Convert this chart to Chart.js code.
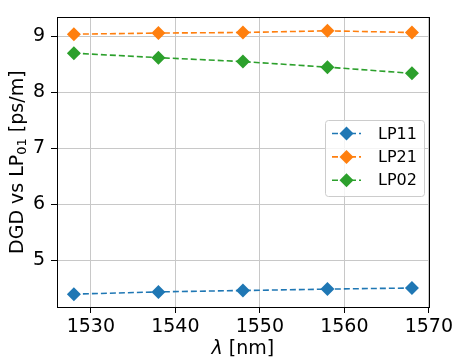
<!DOCTYPE html>
<html>
<head>
<meta charset="utf-8">
<script src="https://cdn.jsdelivr.net/npm/chart.js@4/dist/chart.umd.min.js"></script>
<style>
  html, body { margin: 0; padding: 0; background: #fff; }
  #wrap { width: 456px; height: 362px; }
</style>
</head>
<body>
<div id="wrap"><canvas id="chart" width="456" height="362"></canvas></div>
<script>
// ─── Data ─────────────────────────────────────────────────────────────────
const wavelengths = [1528, 1538, 1548, 1558, 1568];
const lp11 = [4.39, 4.43, 4.455, 4.48, 4.50];
const lp21 = [9.04, 9.06, 9.07, 9.10, 9.07];
const lp02 = [8.70, 8.62, 8.55, 8.45, 8.34];
const seriesNames = ["LP11", "LP21", "LP02"];
const seriesColors = ["#1f77b4", "#ff7f0e", "#2ca02c"];
const xTicks = [1530, 1540, 1550, 1560, 1570];
const yTicks = [5, 6, 7, 8, 9];

const FONT = "'DejaVu Sans', sans-serif";

function toPoints(ys) {
  return wavelengths.map((x, i) => ({ x: x, y: ys[i] }));
}

function makeDataset(name, color, ys) {
  return {
    label: name,
    data: toPoints(ys),
    borderColor: color,
    backgroundColor: color,
    borderWidth: 1.6,
    borderDash: [6, 3],
    pointStyle: "rectRot",
    pointRadius: 7,
    pointHoverRadius: 7,
    pointBorderWidth: 0,
    tension: 0,
  };
}

// ─── Frame, axis titles and legend ───────────────────────────────────────
const decor = {
  id: "decor",
  afterDraw(chart) {
    const ctx = chart.ctx;
    const a = chart.chartArea;

    // spines
    ctx.save();
    ctx.strokeStyle = "#000";
    ctx.lineWidth = 1;
    ctx.strokeRect(Math.round(a.left) + 0.5, Math.round(a.top) + 0.5,
                   Math.round(a.right - a.left), Math.round(a.bottom - a.top));
    ctx.restore();

    // x title: italic lambda + " [nm]"
    ctx.save();
    ctx.fillStyle = "#000";
    ctx.textBaseline = "middle";
    const fMain = "19px " + FONT;
    const fIt = "italic 19px " + FONT;
    ctx.font = fIt;
    const wl = ctx.measureText("λ").width;
    ctx.font = fMain;
    const wr = ctx.measureText(" [nm]").width;
    let x0 = (a.left + a.right) / 2 - (wl + wr) / 2;
    const yT = 349;
    ctx.font = fIt;
    ctx.fillText("λ", x0, yT);
    ctx.font = fMain;
    ctx.fillText(" [nm]", x0 + wl, yT);
    ctx.restore();

    // y title: DGD vs LP₀₁ [ps/m]
    ctx.save();
    ctx.fillStyle = "#000";
    ctx.translate(18, (a.top + a.bottom) / 2);
    ctx.rotate(-Math.PI / 2);
    ctx.textBaseline = "middle";
    const fSub = "13px " + FONT;
    ctx.font = fMain;
    const p1 = "DGD vs LP", p3 = " [ps/m]";
    const w1 = ctx.measureText(p1).width;
    const w3 = ctx.measureText(p3).width;
    ctx.font = fSub;
    const w2 = ctx.measureText("01").width;
    let xs = -(w1 + w2 + w3) / 2;
    ctx.font = fMain;
    ctx.fillText(p1, xs, 0);
    ctx.font = fSub;
    ctx.fillText("01", xs + w1, 5);
    ctx.font = fMain;
    ctx.fillText(p3, xs + w1 + w2, 0);
    ctx.restore();

    // legend
    ctx.save();
    const bx = 325, by = 120, bw = 99, bh = 76;
    ctx.fillStyle = "rgba(255,255,255,0.8)";
    ctx.strokeStyle = "#cccccc";
    ctx.lineWidth = 1;
    ctx.beginPath();
    ctx.roundRect(bx + 0.5, by + 0.5, bw, bh, 3);
    ctx.fill();
    ctx.stroke();
    chart.data.datasets.forEach((ds, i) => {
      const ry = 133.5 + i * 23.4;
      ctx.strokeStyle = ds.borderColor;
      ctx.lineWidth = 1.6;
      ctx.setLineDash([6, 3]);
      ctx.beginPath();
      ctx.moveTo(332, ry);
      ctx.lineTo(361, ry);
      ctx.stroke();
      ctx.setLineDash([]);
      ctx.fillStyle = ds.backgroundColor;
      ctx.beginPath();
      ctx.moveTo(346.5, ry - 7);
      ctx.lineTo(353.5, ry);
      ctx.lineTo(346.5, ry + 7);
      ctx.lineTo(339.5, ry);
      ctx.closePath();
      ctx.fill();
      ctx.fillStyle = "#000";
      ctx.font = "16px " + FONT;
      ctx.textBaseline = "middle";
      ctx.fillText(ds.label, 378, ry + 1);
    });
    ctx.restore();
  },
};

// ─── Chart ────────────────────────────────────────────────────────────────
new Chart(document.getElementById("chart"), {
  type: "line",
  data: {
    datasets: [
      makeDataset(seriesNames[0], seriesColors[0], lp11),
      makeDataset(seriesNames[1], seriesColors[1], lp21),
      makeDataset(seriesNames[2], seriesColors[2], lp02),
    ],
  },
  options: {
    responsive: false,
    animation: false,
    layout: { padding: { left: 0, right: 24, top: 9, bottom: 0 } },
    plugins: {
      legend: { display: false },
      tooltip: { enabled: false },
    },
    scales: {
      x: {
        type: "linear",
        min: 1526,
        max: 1570,
        afterBuildTicks: s => { s.ticks = xTicks.map(v => ({ value: v })); },
        afterFit: s => { s.height = 55; },
        grid: { color: "#c8c8c8", lineWidth: 1, tickColor: "#000", tickLength: 6, drawTicks: true },
        border: { display: false },
        ticks: { color: "#000", font: { family: FONT, size: 19 }, padding: 3, maxRotation: 0, callback: v => String(v) },
      },
      y: {
        type: "linear",
        min: 4.16,
        max: 9.34,
        afterBuildTicks: s => { s.ticks = yTicks.map(v => ({ value: v })); },
        afterFit: s => { s.width = 57; },
        grid: { color: "#c8c8c8", lineWidth: 1, tickColor: "#000", tickLength: 6, drawTicks: true },
        border: { display: false },
        ticks: { color: "#000", font: { family: FONT, size: 19 }, padding: 6, callback: v => String(v) },
      },
    },
  },
  plugins: [decor],
});
</script>
</body>
</html>
